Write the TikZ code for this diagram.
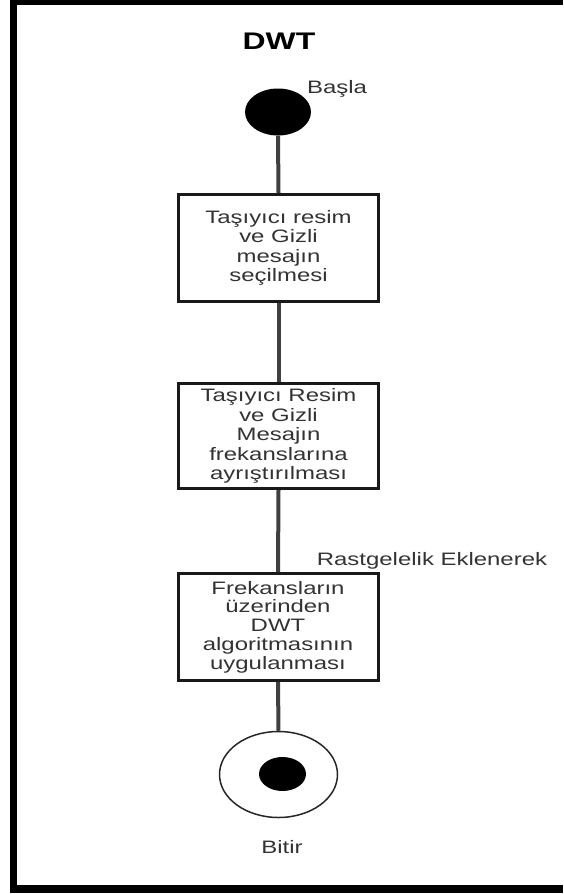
\documentclass[tikz,border=0pt]{standalone}
\usepackage{fontspec}
\setmainfont{Liberation Sans}[FakeStretch=1.33]
\usetikzlibrary{shapes.geometric}
\tikzset{
  flowbox/.style={draw=black!90, line width=3pt, fill=white, minimum width=200pt, minimum height=107pt, align=center, text=black!80, font=\fontsize{18}{19.5}\selectfont, inner sep=0pt},
  conn/.style={draw=black!75, line width=4pt},
  lbl/.style={text=black!80, font=\fontsize{18}{20}\selectfont, inner sep=0pt},
}
\begin{document}
\begin{tikzpicture}[x=1pt,y=-1pt]
\useasboundingbox (0,0) rectangle (563,894);
% frame
\fill[black] (10,0) rectangle (17,893);
\fill[black] (10,0) rectangle (563,5);
\fill[black] (10,885) rectangle (563,893);
% title
\node[font=\fontsize{24}{26}\bfseries\selectfont, inner sep=0pt] (title) at (279,41) {DWT};
% start
\node[ellipse, fill=black, minimum width=66pt, minimum height=47pt, inner sep=0pt] (start) at (278,112) {};
\node[lbl] (startlbl) at (337,89) {Başla};
% boxes
\node[flowbox] (b1) at (278.5,248) {Taşıyıcı resim\\ve Gizli\\mesajın\\seçilmesi};
\node[flowbox, minimum height=105pt] (b2) at (278.5,436) {Taşıyıcı Resim\\ve Gizli\\Mesajın\\frekanslarına\\ayrıştırılması};
\node[flowbox, font=\fontsize{18}{18.8}\selectfont] (b3) at (278,627) {Frekansların\\üzerinden\\DWT\\algoritmasının\\uygulanması};
\node[lbl] (rlbl) at (432,561) {Rastgelelik Eklenerek};
% end
\node[ellipse, draw=black!85, line width=1.5pt, fill=white, minimum width=118pt, minimum height=86pt, inner sep=0pt] (endo) at (278.5,774.5) {};
\node[ellipse, fill=black, minimum width=47pt, minimum height=34pt, inner sep=0pt] (endi) at (282.5,774) {};
\node[lbl] (endlbl) at (282,847) {Bitir};
% connectors
\draw[conn] (start.south) -- (b1.north);
\draw[conn] (b1.south) -- (b2.north);
\draw[conn] (b2.south) -- (b3.north);
\draw[conn] (b3.south) -- (endo.north);
\end{tikzpicture}
\end{document}
